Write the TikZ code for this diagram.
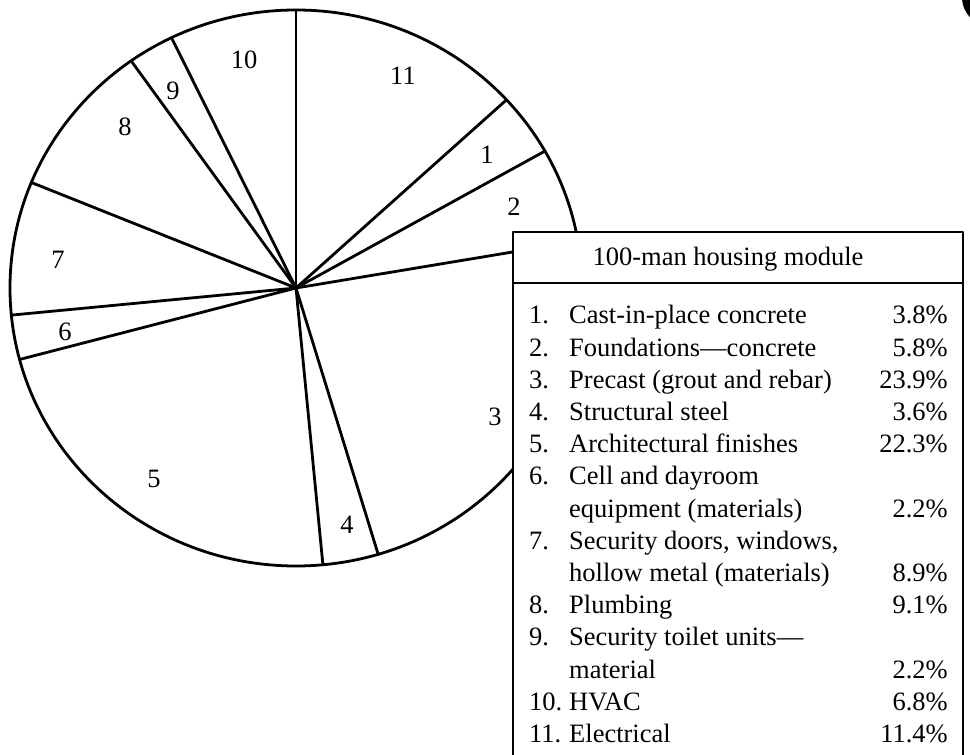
\documentclass[tikz,border=0pt]{standalone}
\usepackage{fontspec}
\setmainfont{Liberation Serif}
\usepackage{tikz}
\usetikzlibrary{positioning}
\tikzset{
  pieline/.style={line width=2.8pt,line cap=round,line join=round},
  slicelbl/.style={font=\fontsize{26.5}{30}\selectfont,inner sep=0pt},
  rowtxt/.style={anchor=base west,inner sep=0pt,font=\fontsize{26.5}{32}\selectfont},
  rowpct/.style={anchor=base east,inner sep=0pt,font=\fontsize{26.5}{32}\selectfont}
}

\begin{document}
\begin{tikzpicture}[x=1pt,y=1pt]
  \useasboundingbox (0,0) rectangle (970,755);
  \clip (0,0) rectangle (970,755);
  \def\rx{286} \def\ry{278}
  \def\bl{513} \def\br{963} \def\bt{523}
  \def\nx{529} \def\tx{569} \def\px{948}

  % --- pie ---
  \coordinate (ctr) at (296,467);
  \draw[pieline] (ctr) ellipse [x radius=\rx, y radius=\ry];
  \foreach \a in {90,42.6,29.5,9.7,-73.3,-84.6,194.9,185.6,157.7,125.2,115.8}{
    \draw[pieline] (ctr) -- ++(\a:\rx\space and \ry);}

  \foreach \k/\x/\y in {1/487/600, 2/514/548, 3/495/338, 4/347/230, 5/154/276,
                        6/65/423, 7/58/495, 8/125/628, 9/173/664, 10/244/695, 11/403/679}{
    \node[slicelbl] (s\k) at (\x,\y) {\k};}

  % --- legend box ---
  \draw[pieline,fill=white] (\bl,-20) rectangle (\br,\bt);
  \draw[line width=2.2pt] (\bl,472) -- (\br,472);
  \node[font=\fontsize{26.5}{32}\selectfont,inner sep=0pt] (ttl) at (728,496) {100-man housing module};

  \foreach \i/\nr in {0/1.,1/2.,2/3.,3/4.,4/5.,5/6.,7/7.,9/8.,10/9.,12/10.,13/11.}{
    \node[rowtxt] (nr\i) at (\nx,{431-\i*32.2}) {\nr};}

  \foreach \i/\txt in {0/{Cast-in-place concrete},
                       1/{Foundations---concrete},
                       2/{Precast (grout and rebar)},
                       3/{Structural steel},
                       4/{Architectural finishes},
                       5/{Cell and dayroom},
                       6/{equipment (materials)},
                       7/{Security doors, windows,},
                       8/{hollow metal (materials)},
                       9/{Plumbing},
                       10/{Security toilet units---},
                       11/{material},
                       12/{HVAC},
                       13/{Electrical}}{
    \node[rowtxt] (tx\i) at (\tx,{431-\i*32.2}) {\txt};}

  \foreach \i/\pc in {0/3.8,1/5.8,2/23.9,3/3.6,4/22.3,6/2.2,8/8.9,9/9.1,11/2.2,12/6.8,13/11.4}{
    \node[rowpct] (pc\i) at (\px,{431-\i*32.2}) {\pc\%};}

  % corner mark
  \fill (992,758) circle (30);
\end{tikzpicture}
\end{document}
